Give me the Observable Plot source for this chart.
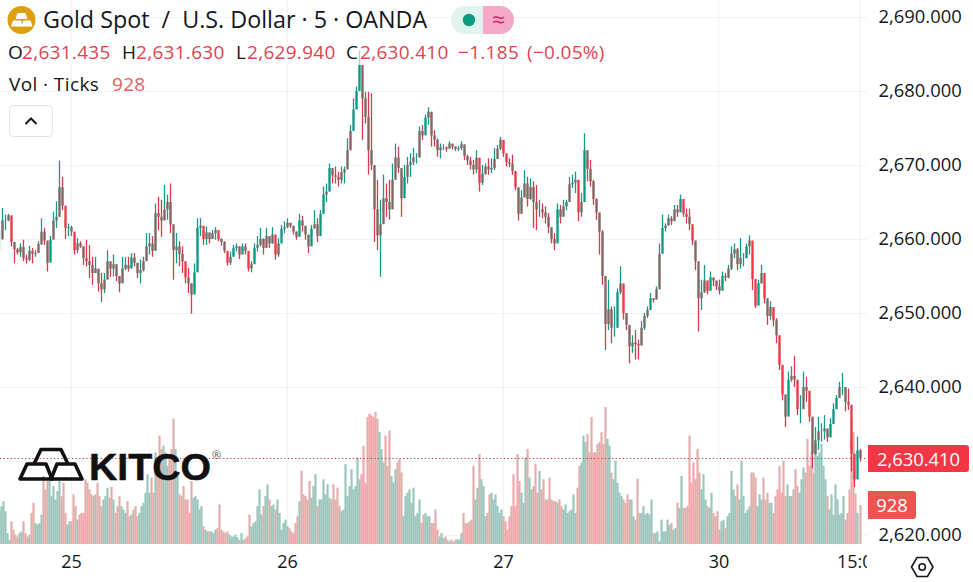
<!DOCTYPE html>
<html><head><meta charset="utf-8">
<script src="https://cdn.jsdelivr.net/npm/d3@7"></script>
<script src="https://cdn.jsdelivr.net/npm/@observablehq/plot@0.6"></script>
<style>
html,body{margin:0;padding:0;background:#fff;overflow:hidden;width:973px;height:582px}
#wrap{position:relative;width:973px;height:582px;font-family:"Open Sans",sans-serif;color:#131722}
#wrap svg.plot{position:absolute;left:0;top:0}
.t{position:absolute;white-space:nowrap;line-height:1}
.r{color:#e0434f}
</style></head><body><div id="wrap"></div>
<script>
const highs=[
2661.2,2664.2,2663.3,2663.4,2662.4,2659.0,2658.8,2659.4,2659.9,2657.9,
2659.1,2658.8,2658.5,2659.7,2662.8,2661.5,2659.1,2660.4,2663.7,2665.1,
2670.6,2668.4,2662.4,2662.1,2661.8,2659.7,2660.1,2659.7,2659,2659.9,
2659.2,2657.6,2657.6,2655.8,2655.4,2655.4,2658.5,2656.7,2657.9,2656.3,
2654.9,2657.6,2657.6,2657.6,2658.1,2658.1,2656.7,2657.2,2657.6,2660.8,
2660.8,2660.4,2664.8,2665.7,2665.3,2667.3,2666,2667.5,2660.8,2660.8,
2659.7,2659,2656.1,2656.1,2654,2656.7,2662.8,2662.8,2661.2,2661.7,
2660.8,2661.2,2661.6,2660.4,2660.1,2659.7,2657.9,2658.3,2659.2,2659.4,
2659,2659.4,2659.4,2657,2657,2659.4,2660.4,2661.5,2660.1,2661.5,
2660.1,2661.6,2659.2,2660.1,2661.9,2662.4,2662.8,2662.1,2661.5,2661,
2663.4,2663.1,2661.7,2660.5,2661.9,2663.9,2662.8,2663.9,2667.1,2667.5,
2670.2,2669.3,2669.8,2669.1,2669.8,2669.8,2673.6,2675.4,2679,2680.6,
2685.5,2682.4,2679.9,2679.9,2679.7,2669.3,2668,2665.3,2668.7,2667.5,
2668,2670.2,2672.9,2672.5,2669.3,2670,2671.1,2671.6,2672.3,2671.6,
2675.2,2675.4,2676.8,2677.8,2677,2674.7,2673.6,2672.9,2672.8,2672.5,
2673.2,2672.7,2672.5,2672.6,2673.2,2672.5,2671.4,2671.1,2670.7,2672,
2669.8,2670,2670.2,2670.9,2670.9,2672.3,2672.7,2673.8,2672.7,2671.1,
2670.9,2671.4,2668.4,2666.6,2666.6,2669.3,2668.4,2668.2,2667.8,2667.3,
2665.3,2664.8,2664.4,2663.5,2661.2,2660.8,2664.8,2664.6,2665.3,2665.3,
2668.4,2668.7,2669.1,2666.6,2666.2,2674.3,
2670.9,2670.7,2668,2665.5,2663.3,2661.2,2653.6,2654.5,2650.9,2650.9,
2653.3,2656.3,2652.9,2649.5,2647.7,2647,2647.7,2646.4,2648.9,2650,
2650.9,2652.7,2652,2653.6,2659.4,2663.3,2662.1,2663.3,2663.1,2664.6,
2664.6,2666,2664.6,2664.1,2664.1,2661.5,2659.4,2654.5,2654.5,2656.5,
2653.6,2655.6,2654.7,2654.3,2654.5,2655.6,2655.4,2656.5,2659,2659.4,
2658.8,2660.1,2658.1,2659.4,2660.5,2657.9,2653.6,2654.5,2656.5,2653.8,
2651.6,2651.6,2650.2,2649.3,2645.9,
2642.3,2638.5,2642.1,2642.8,2644.2,2639.6,2638.9,2642.1,2641.4,2638.2,
2635.8,2634.6,2636,2635.1,2636.2,2634.2,2635.8,2637.8,2638.9,2640.7,
2641.9,2639.8,2639.8,2635.6,2629,2633.3,2631.63];
const lows=[
2658.5,2659.9,2661.2,2662.4,2659.0,2656.7,2657.9,2657.6,2657.0,2656.7,
2657,2656.7,2657.6,2658.3,2659.2,2659.2,2655.6,2657.6,2660.4,2661.5,
2663.9,2663.9,2660,2660.4,2660.4,2657.9,2658.1,2658.8,2656.5,2656.3,
2654.7,2653.8,2655.4,2652.9,2651.5,2652.7,2655.4,2654.9,2654.9,2654.3,
2652.8,2654.3,2655.8,2655.6,2656.7,2656.3,2654.7,2654,2655.6,2657.2,
2657.9,2657.6,2658.5,2661.2,2660.3,2662.6,2662.6,2660.8,2654.5,2656.7,
2656.3,2655.4,2654,2652.7,2649.9,2653.4,2658.1,2660.4,2659.2,2659.2,
2659.4,2660.1,2659.9,2659.7,2659.1,2658.1,2656.4,2656.5,2657.9,2658.3,
2657.3,2658.3,2657.9,2655.6,2655.5,2657.2,2658.3,2659,2657.9,2659,
2658.8,2659.4,2657.2,2657.6,2660.6,2660.8,2661.5,2661.5,2660.6,2659.9,
2661.7,2661,2659.9,2658.1,2660.3,2661.7,2659.6,2662.1,2664.4,2665,
2667.5,2667.5,2667.5,2667.1,2667.5,2667.5,2670,2672,2676.1,2677.9,
2681.7,2673.4,2675.6,2668.7,2669.3,2659.6,2658.5,2654.9,2663.5,2663,
2662.6,2665.3,2669.3,2668.9,2663,2666.9,2667.5,2668.4,2670,2670.2,
2671.1,2673.4,2675.2,2675.4,2672.5,2672.5,2671.1,2670.9,2672,2671.8,
2672.3,2672.1,2671.9,2671.9,2672,2670.7,2670,2669.4,2668.7,2668.9,
2666.4,2667.3,2668.7,2668.7,2668.9,2669.3,2671.1,2672,2671.1,2669.8,
2669.7,2668.7,2666.6,2662.5,2663.5,2665.7,2664.4,2665.3,2661.5,2661.2,
2663,2662.8,2662.1,2660.8,2659.4,2658.5,2662.1,2662.1,2663.7,2663.9,
2665.7,2666.9,2666.2,2662.4,2663,2669.3,
2667.8,2667.1,2664.6,2662.6,2657.9,2653.8,2645,2647.7,2645.9,2646.8,
2651.8,2652.5,2649.1,2647.7,2643.2,2644.6,2643.7,2643.7,2645.7,2647.7,
2649.3,2651.3,2651.4,2652,2653.6,2660.1,2661,2661.9,2661.9,2662.6,
2663,2664.2,2663,2662.1,2661.2,2659.2,2655.8,2647.5,2650.4,2652.7,
2652.5,2653.6,2653.6,2653.1,2652.5,2653.6,2654.3,2654.7,2655.8,2657.4,
2655.8,2656,2656.3,2657.9,2657.9,2653.1,2650.7,2652.5,2654,2651.3,
2648.4,2649.1,2648.2,2645.9,2642.3,
2638.2,2634.6,2637.8,2640.7,2640,2636.2,2635.1,2638.2,2638,2635.3,
2629,2630.8,2631.5,2632.6,2632.9,2632.6,2633.8,2635.8,2637.4,2638.7,
2638.9,2636.7,2636.9,2628.6,2626.5,2630.2,2629.94];
const closes=[
2660,2662.5,2662.5,2663.2,2659.6,2658.6,2658.2,2658.9,2657.4,2657.2,
2658.4,2658,2658.1,2659.3,2661,2659.8,2656.8,2659.9,2662.5,2663,
2667,2664.5,2661.5,2661.6,2661,2658.5,2659.4,2659,2657.4,2657,
2656.5,2655.4,2656,2654,2653.2,2654.5,2657,2656,2656.6,2655,
2654,2656,2656.5,2656,2657.5,2656.8,2655.4,2655.8,2657,2659,
2659.4,2658.4,2663.5,2663,2662.5,2664,2665,2662,2658.5,2659,
2658,2657,2654.8,2654,2652.5,2655.5,2661.5,2661.8,2660,2660.9,
2660,2660.8,2661.2,2660,2659.6,2658.4,2656.8,2657.6,2658.8,2659,
2657.9,2659,2658.4,2656,2656.6,2658.8,2659.2,2660,2658.8,2660.4,
2659.4,2660.6,2657.9,2659.4,2661.4,2661.6,2662.2,2661.8,2661,2660.3,
2662.5,2661.8,2660.6,2659,2661.4,2662,2660.4,2663.4,2666,2666.4,
2669.6,2668.6,2668.4,2668,2669,2669.4,2672,2674.6,2677.5,2680,
2683.5,2679,2676.5,2672,2670,2664,2660.5,2662,2665.5,2665,
2664,2668,2671,2669.6,2665.5,2668.4,2670,2670.4,2671,2671,
2674.6,2674,2676.4,2677.2,2674,2673.4,2672,2672.4,2672.4,2672.2,
2672.9,2672.5,2672.2,2672.3,2672.8,2671.2,2670.6,2670,2669.4,2671,
2667.6,2668.8,2669.8,2669.4,2669.6,2670.8,2672.2,2673.4,2671.6,2670.4,
2670.2,2669.2,2667,2663.4,2665.6,2667.5,2665.4,2667,2665,2664,
2664,2663.6,2663,2661.6,2660,2659.4,2664,2663,2664.4,2665,
2667.4,2667.6,2668,2663.6,2665,2672,
2669.5,2667.8,2665.4,2663.6,2661,2655,2648.5,2650.5,2648,2648,
2652.8,2654,2650,2648.4,2645.5,2646,2645.8,2645.6,2648,2649.6,
2650.4,2652,2651.8,2653.2,2658,2661.5,2661.8,2662.8,2662.4,2664,
2663.6,2665.4,2663.4,2663,2662,2659.8,2657,2652,2652.8,2654.4,
2653,2654.8,2654.4,2653.6,2653,2655,2654.8,2656,2658,2658.6,
2656.6,2657.4,2657.4,2659,2659.8,2654.6,2651,2654,2655.4,2652,
2649.6,2650.8,2649,2647,2643,
2639,2636,2641,2641.5,2641,2637,2637,2640,2639.5,2636,
2631,2632.8,2634,2634,2634.4,2633.2,2635,2637,2638.5,2640,
2640,2638,2637.6,2631,2627.5,2631.435,2630.41];
const volumes=[
780,900,1020,780,260,100,540,340,220,180,260,300,540,260,180,220,740,980,500,460,
500,700,1620,1300,1500,1500,1140,1380,1060,1260,1500,1140,1460,740,460,540,540,1180,900,580,
700,740,740,1540,1460,1300,1180,1140,1180,1460,1140,900,1060,1140,1340,1100,1360,1060,740,900,
1140,900,820,740,1020,660,700,820,900,660,740,900,980,1220,1660,1220,1580,1220,2180,1860,
2580,2260,2340,2180,1860,2020,2260,2980,2260,1620,1180,1140,1380,1060,1060,740,1500,1100,1140,1060,
820,900,420,340,300,300,300,260,340,380,940,340,300,260,300,220,180,180,220,160,
100,260,100,140,180,700,420,500,540,900,1300,700,900,1140,1420,1060,900,940,820,1060,
740,340,500,580,420,380,300,260,500,660,
1020,1740,1180,1140,1060,1500,1100,1380,1660,900,1060,1060,1540,1180,1420,1100,1060,1420,1060,1340,
900,780,820,1900,1140,1380,1780,1300,1380,2060,1540,1660,2340,1460,3020,3100,3060,3020,3140,2980,
2660,2260,1940,2580,1860,2700,1620,1460,1780,1940,2020,1700,660,1140,1220,1300,980,1340,660,740,
1060,500,700,740,660,660,500,500,820,340,180,260,140,180,100,60,100,60,100,110,
110,260,740,500,500,540,580,1860,1060,1340,2140,1540,1380,660,740,1180,1220,1060,1180,900,
740,820,660,540,340,660,900,1660,900,2140,1500,1220,980,2060,2260,1580,1300,1380,1900,1220,
1740,1300,1540,1060,1060,1580,1060,1020,1020,980,1060,900,820,940,740,780,820,1180,740,1340,
1860,1940,2580,2420,2620,
2180,3020,2180,2180,2380,2420,2660,2380,3260,2500,2340,1700,1540,1980,1460,1220,1140,1060,980,1180,
1060,1060,660,580,1550,740,740,900,700,740,700,1060,260,260,300,60,580,300,300,580,
460,500,340,380,980,860,1620,860,860,900,2580,1460,1940,1540,2260,1700,1300,1660,1060,900,
860,1220,740,660,780,340,540,580,380,660,740,1740,1300,1140,1420,1060,1980,1140,740,820,
900,1700,1700,1580,900,1180,1060,1580,1060,1220,980,980,740,1140,1300,1860,1220,1980,1140,1420,
1140,1140,1300,1780,1380,1220,1540,1820,1700,2500,1860,2180,1700,2380,2100,2180,2380,1860,1540,1140,
820,1180,700,1420,1060,700,740,1140,580,740,1300,2500,2660,1200,740,928];
const gridPrices=[2620,2630,2640,2650,2660,2670,2680,2690];
const labelledPrices=[2620,2640,2650,2660,2670,2680,2690];
const tickBars=[24,96,168,239.83,286.83];
const tickLabels=["25","26","27","30","15:00"];
const lastPrice=2630.41;
const volFloor=2618.78, priceUnitsPerTick=0.00568, paneTop=2692.3;
const UP="#089981", DOWN="#f23645", MIX="#7d6763";

const candles=closes.map((c,i)=>{
  const o=i?closes[i-1]:c, h=highs[i], l=lows[i];
  const up=c>=o, strong=Math.abs(c-o)>=0.9*(h-l);
  return {i,o,h,l,c,up,strong};
});
const bars=volumes.map((v,j)=>{
  const idx=j*2/3, cd=candles[Math.min(candles.length-1,Math.round(idx))];
  return {idx,v,up:cd.up};
});
bars[bars.length-1].idx=287;

const chart=Plot.plot({
  width:973,height:582,marginTop:0,marginBottom:0,marginLeft:0,marginRight:106,
  style:{background:"transparent",fontFamily:'"Open Sans",sans-serif',fontSize:"18px",color:"#131722"},
  x:{axis:null,domain:[0,289],range:[-1,866]},
  y:{domain:[2620,2690],range:[535,17]},
  marks:[
    Plot.ruleY(gridPrices,{stroke:"#f0f3fa",strokeWidth:1.2}),
    Plot.ruleX(tickBars,{y1:volFloor,y2:paneTop,stroke:"#f0f3fa",strokeWidth:1.2}),
    Plot.ruleX(bars,{x:"idx",y1:volFloor,y2:d=>volFloor+d.v*priceUnitsPerTick,
      stroke:d=>d.up?"#8fcbc0":"#efaaa5",strokeOpacity:0.8,strokeWidth:2.5}),
    Plot.ruleX(bars,{x:"idx",y1:volFloor,y2:d=>volFloor+d.v*priceUnitsPerTick,
      stroke:d=>d.up?"#a98f8a":"#7fa69f",strokeOpacity:0.3,strokeWidth:0.9}),
    Plot.ruleY([lastPrice],{stroke:"#b8323f",strokeWidth:1,strokeDasharray:"1.2 2.4"}),
    Plot.ruleX(candles,{x:"i",y1:"l",y2:"h",stroke:d=>d.up?"#169a85":"#d9394a",strokeWidth:1.3}),
    Plot.ruleX(candles,{x:"i",y1:"o",y2:"c",stroke:d=>d.strong?(d.up?UP:DOWN):MIX,strokeWidth:2.3}),
    Plot.axisY({anchor:"right",ticks:labelledPrices,tickSize:0,tickPadding:11,label:null,
      tickFormat:d3.format(",.3f"),fontSize:18.4,fill:"#131722"}),
    Plot.text(tickBars,{x:d=>d,text:(d,i)=>tickLabels[i],frameAnchor:"bottom",dy:-15,
      fontSize:18,fill:"#131722",clip:true})
  ]
});
const wrap=document.getElementById("wrap");
chart.classList.add("plot");
wrap.appendChild(chart);

const add=(html)=>wrap.insertAdjacentHTML("beforeend",html);
add(`<div style="position:absolute;left:0;top:42px;width:607px;height:23px;background:rgba(255,255,255,.62)"></div>`);
add(`<svg style="position:absolute;left:0;top:0" width="973" height="582">
<circle cx="21.5" cy="20" r="14" fill="#dca00f"/>
<g fill="#fff"><path d="M17.5 13h8l2 6h-12z"/><path d="M13 20.5h8l2 6H11z"/><path d="M23.5 20.5h7l2 6h-11z"/></g>
<path d="M483 6h17a14 14 0 0 1 0 28h-17z" fill="#f5a9c6"/>
<path d="M465 6h18v28h-18a14 14 0 0 1 0-28z" fill="#e1f3ef"/>
<circle cx="469" cy="20" r="6.2" fill="#0b9c80"/>
<rect x="9.5" y="105.5" width="43" height="31" rx="4" fill="#fff" stroke="#e0e3eb"/>
<path d="M25.5 124l5.5-5.5 5.5 5.5" fill="none" stroke="#131722" stroke-width="2"/>
<g fill="#fff" fill-opacity="0" stroke="#111" stroke-width="3.6" stroke-linejoin="round">
<path d="M34 464 L41 449.5 H61 L68 464"/>
<path d="M27 464 H46 L52 479 H20 Z"/>
<path d="M57 464 H75 L82 479 H51 Z"/>
</g>
<path d="M917 557.5h10.5l5.5 9.5-5.5 9.5H917l-5.5-9.5z" fill="none" stroke="#131722" stroke-width="1.6"/>
<circle cx="922.2" cy="567" r="3.2" fill="none" stroke="#131722" stroke-width="1.6"/>
</svg>`);
const T=(x,y,size,txt,cls="",extra="")=>add(`<div class="t ${cls}" style="left:${x}px;top:${y}px;font-size:${size}px;${extra}">${txt}</div>`);
T(43,8,23.3,"Gold Spot&nbsp;&nbsp;/&nbsp;&nbsp;U.S. Dollar · 5 · OANDA");
T(483,8,23,"≈","","width:31px;text-align:center;color:#d3246e;");
const ls="letter-spacing:.3px;";
T(8,43,19,"O","",ls);T(22,43,19,"2,631.435","r",ls);
T(122,43,19,"H","",ls);T(136,43,19,"2,631.630","r",ls);
T(236,43,19,"L","",ls);T(247,43,19,"2,629.940","r",ls);
T(346,43,19,"C","",ls);T(360,43,19,"2,630.410","r",ls);
T(458,43,19,"−1.185","r",ls);T(527,43,19,"(−0.05%)","r",ls);
T(9,75,19,"Vol · Ticks","","letter-spacing:.4px;");T(112,75,19,"928","r","color:#e4605f;"+ls);
T(89,449.5,36,"KITCO","","font-family:'Liberation Sans';font-weight:700;color:#111;transform:scaleX(1.09);transform-origin:left;-webkit-text-stroke:.5px #111;");
T(212,449,11,"®","","color:#555;");
add(`<div class="t" style="left:868px;top:445px;width:101px;height:27px;background:#f23645;border-radius:0 3px 3px 0;color:#fff;font-size:18.4px;line-height:27px;text-align:center">2,630.410</div>`);
add(`<div class="t" style="left:868px;top:491px;width:48px;height:28px;background:#ef5350;border-radius:0 3px 3px 0;color:#fff;font-size:18.4px;line-height:28px;text-align:center">928</div>`);
</script></body></html>
